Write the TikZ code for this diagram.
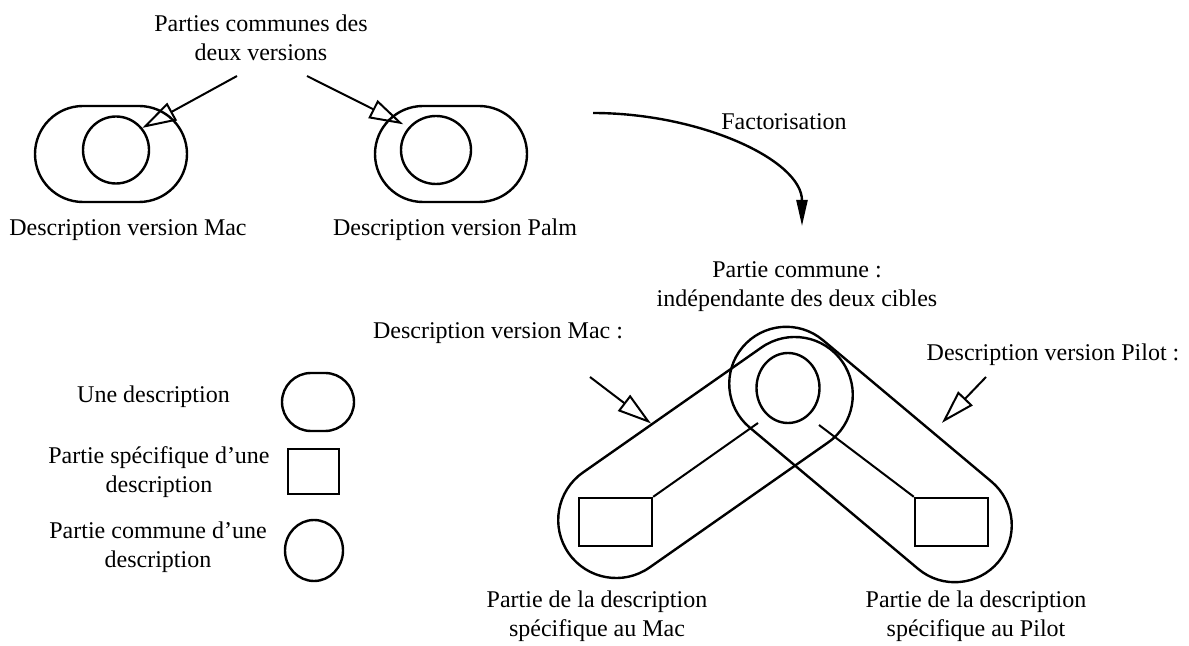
\documentclass[tikz,border=0pt]{standalone}
\usepackage{fontspec}
\setmainfont{Liberation Serif}
\usepackage{tikz}
\usetikzlibrary{arrows.meta,shapes.geometric,shapes.misc}

\begin{document}
\begin{tikzpicture}[x=0.5pt, y=-0.5pt, line width=1.2pt,
    txt/.style={align=center, font=\fontsize{12}{14.5}\selectfont, inner sep=0pt},
    desc/.style={draw, rounded rectangle, inner sep=0pt},
    commune/.style={draw, ellipse, inner sep=0pt},
    specif/.style={draw, rectangle, inner sep=0pt},
    openarrow/.style={-{Triangle[open, length=17pt, width=10pt]}, line width=1pt}]
        \useasboundingbox (0,0) rectangle (1189,646);
        % the two versions before factorisation
        \node[desc, minimum width=76pt, minimum height=48pt] (mac) at (111,154) {};
        \node[commune, minimum width=33pt, minimum height=33.5pt] (macin) at (116,150) {};
        \node[desc, minimum width=76pt, minimum height=48pt] (palm) at (451,154) {};
        \node[commune, minimum width=35pt, minimum height=34pt] (palmin) at (436,150) {};
        \node[txt] (maclbl) at (128,230) {Description version Mac};
        \node[txt] (palmlbl) at (455,230) {Description version Palm};
        \node[txt] (communes) at (261,38) {Parties communes des\\deux versions};
        \coordinate (ca) at (237,76);
        \coordinate (cb) at (307,76);
        \draw[openarrow] (ca) -- (macin.40);
        \draw[openarrow, shorten >=3pt] (cb) -- (palmin.140);
        % factorisation
        \coordinate (fa) at (593,113);
        \coordinate (fb) at (802,226);
        \draw[-{Triangle[length=13pt, width=5.5pt]}] (fa) .. controls (700,113) and (802,160) .. (fb);
        \node[txt] (fact) at (784,122) {Factorisation};
        % factorised description
        \node[desc, rotate=35, minimum width=167pt, minimum height=58pt] (macv) at (705.5,457.5) {};
        \node[desc, rotate=-40, minimum width=167pt, minimum height=57pt] (pilotv) at (870.5,454.5) {};
        \node[commune, minimum width=31.5pt, minimum height=35pt] (commun) at (788,388) {};
        \node[specif, minimum width=36.5pt, minimum height=24pt] (macspec) at (615.5,522) {};
        \node[specif, minimum width=36.5pt, minimum height=24pt] (pilotspec) at (951.5,522) {};
        \coordinate (macend) at (758,423);
        \coordinate (pilotend) at (819,425);
        \draw[line width=1pt] (macspec.north east) -- (macend);
        \draw[line width=1pt] (pilotspec.north west) -- (pilotend);
        \node[txt] (communlbl) at (797,287) {Partie commune :\\indépendante des deux cibles};
        \node[txt] (macvlbl) at (498,333) {Description version Mac :};
        \node[txt] (pilotvlbl) at (1053,355) {Description version Pilot :};
        \coordinate (ma) at (590,377);
        \coordinate (pa) at (986,377);
        \draw[openarrow] (ma) -- (macv.113);
        \draw[openarrow, shorten >=6pt] (pa) -- (pilotv.60);
        \node[txt] (macspeclbl) at (597,616) {Partie de la description\\spécifique au Mac};
        \node[txt] (pilotspeclbl) at (976,616) {Partie de la description\\spécifique au Pilot};
        % legend
        \node[txt] (l1) at (153.5,397) {Une description};
        \node[desc, minimum width=36pt, minimum height=29pt] (ldesc) at (318,402) {};
        \node[txt] (l2) at (159,472.5) {Partie spécifique d’une\\description};
        \node[specif, minimum width=25.5pt, minimum height=22.5pt] (lspec) at (313.5,471.5) {};
        \node[txt] (l3) at (158,547.5) {Partie commune d’une\\description};
        \node[commune, minimum width=29pt, minimum height=30.5pt] (lcomm) at (314,550.5) {};
\end{tikzpicture}
\end{document}
